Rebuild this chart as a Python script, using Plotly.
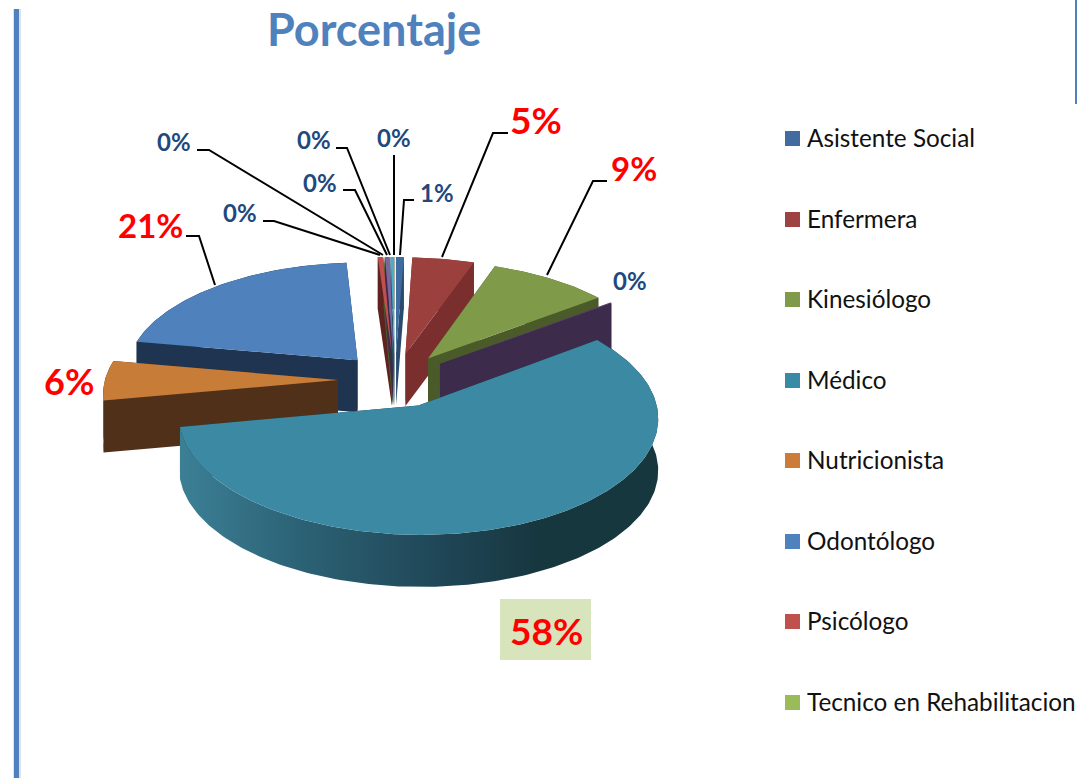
import numpy as np
import plotly.graph_objects as go

# ---- data (percent, clockwise from the top) ----
slice_names = ["Asistente Social", "Enfermera", "Kinesiólogo", "(sin leyenda 1)", "Médico",
               "Nutricionista", "Odontólogo", "Psicólogo", "Tecnico en Rehabilitacion",
               "(sin leyenda 2)", "(sin leyenda 3)", "(sin leyenda 4)"]
slice_values = [0.6, 4.8, 9.3, 0.1, 57.3, 5.7, 21.1, 0.4, 0.05, 0.35, 0.27, 0.03]
slice_labels = ["1%", "5%", "9%", "0%", "58%", "6%", "21%", "0%", "0%", "0%", "0%", "0%"]

legend_names = ["Asistente Social", "Enfermera", "Kinesiólogo", "Médico",
                "Nutricionista", "Odontólogo", "Psicólogo", "Tecnico en Rehabilitacion"]
legend_colors = ["#426C9F", "#9E4341", "#7F9A48", "#398AA4",
                 "#CC7B38", "#4F81BD", "#C0504D", "#9BBB59"]

# ---- styling ----
top_colors = ["#3F6CA0", "#9C403D", "#7F9A48", "#8064A2", "#3B89A3", "#C77C37",
              "#4F81BD", "#C0504D", "#9BBB59", "#8064A2", "#4BACC6", "#F79646"]
wall_colors = ["#2A4A70", "#7A2F2E", "#4A5A28", "#3C2B4A", "#17373F", "#51301A",
               "#1E3450", "#5E2221", "#4A5A28", "#3C2B4A", "#1F5A6A", "#7A4A20"]
paint_groups = [[7, 8, 9, 10, 11, 0], [1], [6], [2], [3], [5], [4]]
medico_index = 4
medico_wall_gradient = [[0, "#3C8096"], [0.25, "#2C6275"], [0.55, "#1F4656"],
                        [0.75, "#17373F"], [1, "#17373F"]]

# projection of the tilted pie onto the page
CX, CY, RX, RY, PERSP, DEPTH, PULL, START = 395, 380, 233, 111, 0.10, 52, 0.245, 0.0


def project(u, v, drop=0.0):
    s = 1 / (1 + PERSP * v)
    return CX + RX * u * s, CY - RY * v * s + drop


def wedge(t1, t2):
    mid = (t1 + t2) / 2
    ox, oy = PULL * np.sin(mid), PULL * np.cos(mid)
    t = np.linspace(t1, t2, max(3, int(np.degrees(t2 - t1)) + 2))
    return ox, oy, ox + np.sin(t), oy + np.cos(t)


fig = go.Figure()


def poly(xs, ys, color, **kw):
    fig.add_trace(go.Scatter(x=xs, y=ys, mode="lines", fill="toself", fillcolor=color,
                             line=dict(width=0, color=color), hoverinfo="skip",
                             showlegend=False, **kw))


fracs = np.array(slice_values) / sum(slice_values) * 2 * np.pi
ends = np.cumsum(fracs) + np.radians(START)
starts = ends - fracs

for group in paint_groups:
    for i in group:  # walls of the group first
        ox, oy, u, v = wedge(starts[i], ends[i])
        for end in (0, -1):
            ax, ay = project(ox, oy)
            bx, by = project(ox, oy, DEPTH)
            rx, ry = project(u[end], v[end])
            qx, qy = project(u[end], v[end], DEPTH)
            poly([ax, rx, qx, bx, ax], [ay, ry, qy, by, ay], wall_colors[i])
        tx, ty = project(u, v)
        lx, ly = project(u, v, DEPTH)
        wx = np.concatenate([tx, lx[::-1], tx[:1]])
        wy = np.concatenate([ty, ly[::-1], ty[:1]])
        if i == medico_index:
            poly(wx, wy, wall_colors[i],
                 fillgradient=dict(type="horizontal", colorscale=medico_wall_gradient))
        else:
            poly(wx, wy, wall_colors[i])
    for i in group:  # then their top faces
        ox, oy, u, v = wedge(starts[i], ends[i])
        ax, ay = project(ox, oy)
        tx, ty = project(u, v)
        poly(np.concatenate([[ax], tx, [ax]]), np.concatenate([[ay], ty, [ay]]), top_colors[i])

# ---- leader lines and data labels (page layout) ----
leaders = [
    ([186, 199, 215], [236, 236, 285]),
    ([263, 274, 380], [221, 221, 255]),
    ([197, 209, 383], [150, 150, 255]),
    ([343, 355, 387], [190, 190, 255]),
    ([336, 347, 390], [148, 148, 255]),
    ([394, 394], [155, 255]),
    ([414, 404, 400], [200, 200, 255]),
    ([508, 493, 442], [133, 133, 257]),
    ([607, 593, 547], [181, 181, 275]),
]
for lx, ly in leaders:
    fig.add_trace(go.Scatter(x=lx, y=ly, mode="lines", line=dict(color="black", width=2),
                             hoverinfo="skip", showlegend=False))

NAVY, RED = "#1F497D", "#FF0000"
label_layout = {  # slice index: x, y, size, colour
    0: (437, 192, 24, NAVY), 1: (536, 119, 37, RED), 2: (634, 168, 33, RED),
    3: (630, 280, 24, NAVY), 4: (546, 630, 37, RED), 5: (69, 381, 36, RED),
    6: (150, 225, 33, RED), 7: (240, 212, 24, NAVY), 8: (174, 141, 24, NAVY),
    9: (320, 182, 24, NAVY), 10: (314, 139, 24, NAVY), 11: (394, 137, 24, NAVY),
}
annotations = [dict(x=374, y=29, text="<b>Porcentaje</b>", showarrow=False,
                    font=dict(family="Lato", size=45, color="#4F81BD"))]
for i, (x, y, size, color) in label_layout.items():
    annotations.append(dict(x=x, y=y, text=f"<b>{slice_labels[i]}</b>", showarrow=False,
                            font=dict(family="Lato", size=size, color=color)))

# ---- legend (rows placed to match the original spacing) ----
legend_rows = [138, 219, 299, 380, 460, 541, 621, 702]
for name, color, y in zip(legend_names, legend_colors, legend_rows):
    fig.add_trace(go.Scatter(x=[792.5], y=[y + 0.5], mode="markers", name=name, showlegend=False,
                             hoverinfo="name",
                             marker=dict(symbol="square", size=15, color=color)))
    annotations.append(dict(x=804.5, y=y - 1, text=name, showarrow=False, xanchor="left",
                            font=dict(family="Lato", size=24.3, color="#111111")))

fig.update_layout(
    width=1086, height=778, margin=dict(l=0, r=0, t=0, b=0),
    paper_bgcolor="white", plot_bgcolor="white", showlegend=False,
    xaxis=dict(range=[0, 1086], visible=False, fixedrange=True),
    yaxis=dict(range=[778, 0], visible=False, fixedrange=True),
    annotations=annotations,
    shapes=[
        dict(type="rect", x0=13, x1=21, y0=9, y1=778, fillcolor="#DDE3EA", line_width=0,
             layer="below"),
        dict(type="rect", x0=14, x1=19, y0=9, y1=778, fillcolor="#4F81BD", line_width=0),
        dict(type="rect", x0=1075, x1=1077, y0=0, y1=104, fillcolor="#4F81BD", line_width=0),
        dict(type="rect", x0=500, x1=591, y0=599, y1=660, fillcolor="#D8E4BC", line_width=0,
             layer="below"),
    ],
)
fig.write_html("out.html", post_script="document.body.style.margin='0';",
               config={"displayModeBar": False})
